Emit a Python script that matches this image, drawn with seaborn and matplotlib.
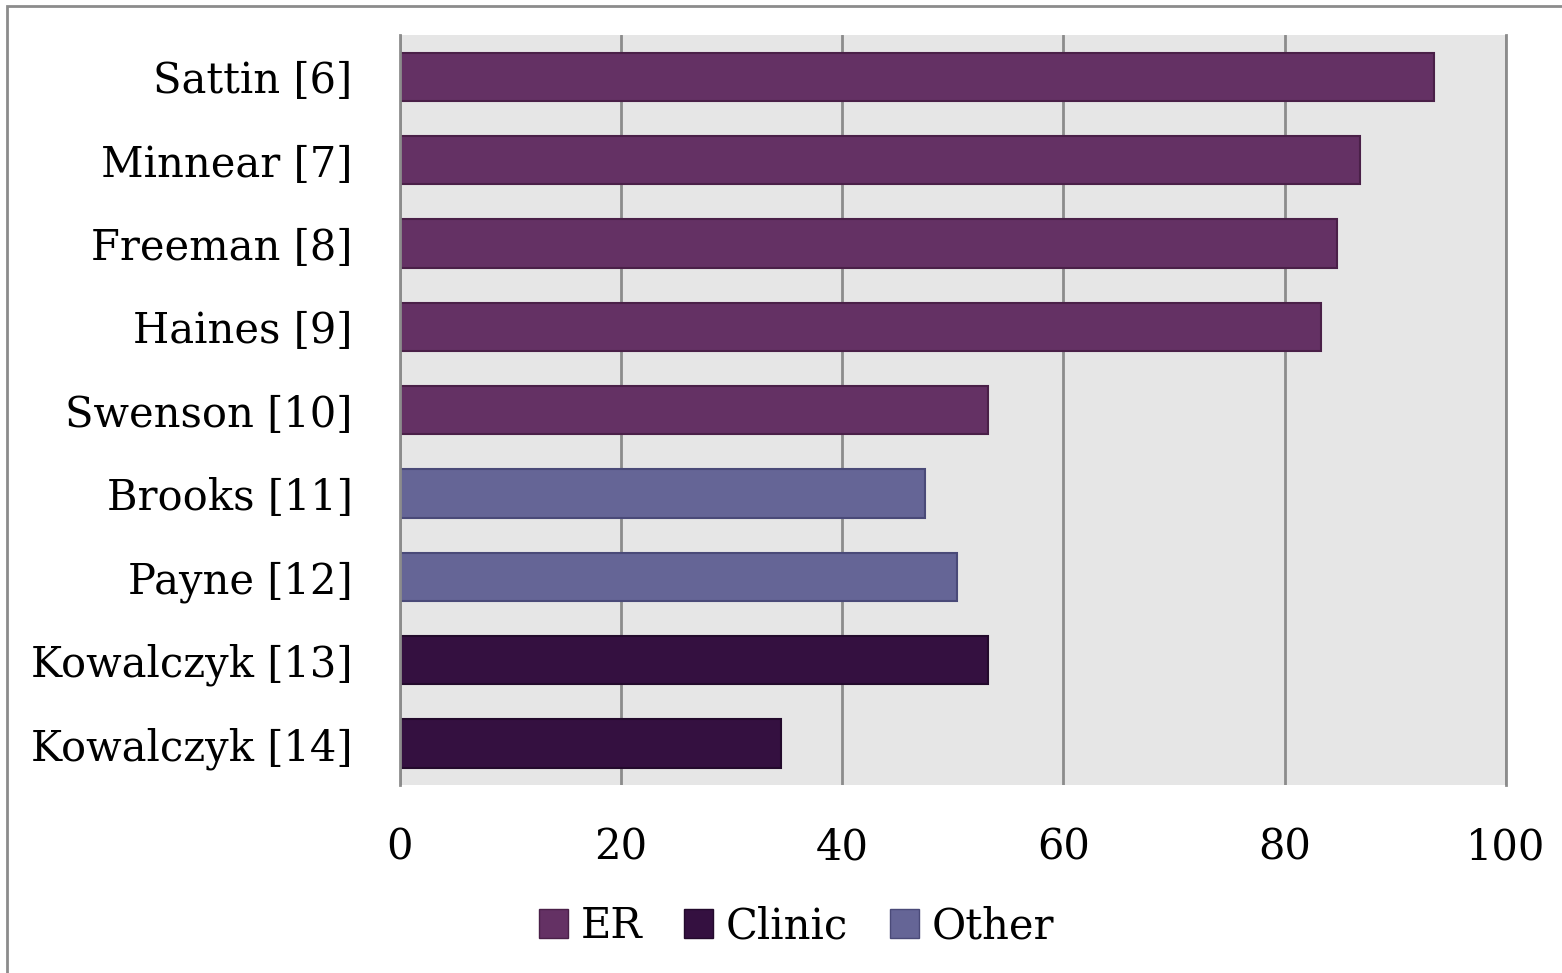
import seaborn as sns
import matplotlib.pyplot as plt
import matplotlib.patches as mpatches
import pandas as pd

studies = ["Sattin [6]", "Minnear [7]", "Freeman [8]", "Haines [9]", "Swenson [10]",
           "Brooks [11]", "Payne [12]", "Kowalczyk [13]", "Kowalczyk [14]"]
values = [93.5, 86.8, 84.7, 83.3, 53.2, 47.5, 50.4, 53.2, 34.5]
settings = ["ER", "ER", "ER", "ER", "ER", "Other", "Other", "Clinic", "Clinic"]
setting_order = ["ER", "Clinic", "Other"]
colors = {"ER": "#643164", "Clinic": "#341040", "Other": "#656596"}
edges = {"ER": "#4a2048", "Clinic": "#230a2c", "Other": "#4a4a78"}

df = pd.DataFrame({"Study": studies, "Value": values, "Setting": settings})

sns.set_style("white")
plt.rcParams["font.family"] = ["DejaVu Serif"]
plt.rcParams["text.color"] = "black"

fig = plt.figure(figsize=(15.62, 9.73), dpi=100)
ax = fig.add_axes([0.256, 0.193, 0.708, 0.771])

sns.barplot(data=df, y="Study", x="Value", hue="Setting", hue_order=setting_order,
            palette=colors, saturation=1, dodge=False, width=0.58, orient="h",
            ax=ax, legend=False)

# darker outline per group
for cont, k in zip(ax.containers, setting_order):
    for bar in cont:
        bar.set_edgecolor(edges[k])
        bar.set_linewidth(1.5)

ax.set_facecolor("#e6e6e6")
ax.set_xlim(0, 100)
ax.set_ylim(8.5, -0.5)
ax.set_xticks(range(0, 101, 20))
ax.grid(axis="x", color="#8c8c8c", linewidth=2)
ax.set_axisbelow(True)
for sp in ["top", "bottom"]:
    ax.spines[sp].set_visible(False)
for sp in ["left", "right"]:
    ax.spines[sp].set_color("#8c8c8c")
    ax.spines[sp].set_linewidth(2)
ax.set_xlabel("")
ax.set_ylabel("")
ax.tick_params(axis="x", labelsize=30, pad=30, length=0, labelcolor="black")
ax.tick_params(axis="y", labelsize=30, pad=34, length=0, labelcolor="black")

handles = [mpatches.Patch(facecolor=colors[k], edgecolor=edges[k], label=k) for k in setting_order]
fig.legend(handles=handles, loc="center", bbox_to_anchor=(0.51, 0.048), ncol=3, frameon=False,
           fontsize=30, labelcolor="black", handlelength=0.7, handleheight=0.7,
           handletextpad=0.3, columnspacing=1.0)

fig.patches.append(mpatches.Rectangle((7 / 1562, -0.1), 1.2, 1 - 6 / 973 + 0.1, transform=fig.transFigure,
                                      fill=False, edgecolor="#8c8c8c", linewidth=2))

fig.savefig("out.png", dpi=100)
